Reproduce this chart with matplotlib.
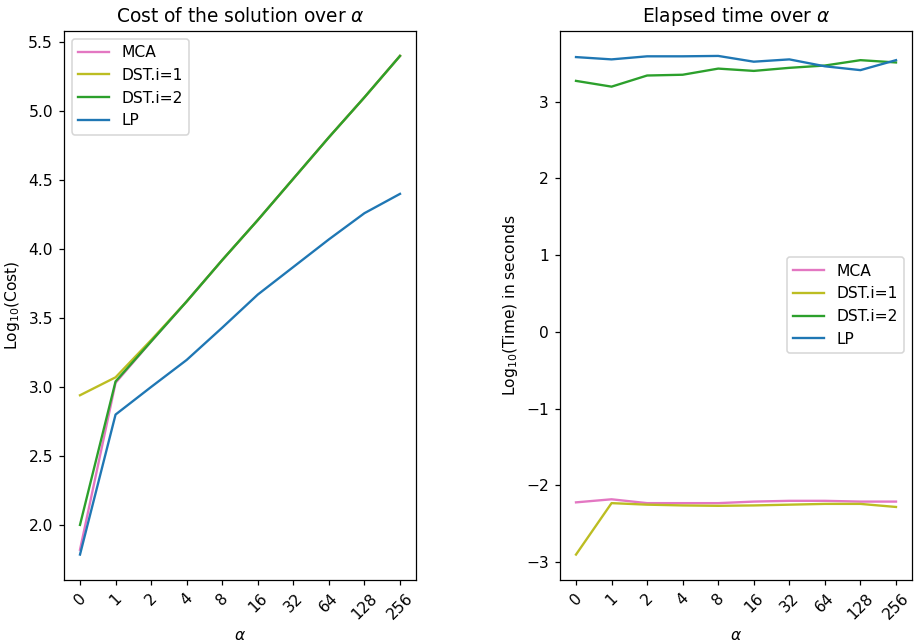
import matplotlib
matplotlib.use("Agg")
import matplotlib.pyplot as plt
import numpy as np

alphas = ["0", "1", "2", "4", "8", "16", "32", "64", "128", "256"]
series_names = ["MCA", "DST.i=1", "DST.i=2", "LP"]
colors = ["#e377c2", "#bcbd22", "#2ca02c", "#1f77b4"]

cost_mca = [1.82, 3.03, 3.33, 3.62, 3.92, 4.21, 4.51, 4.81, 5.10, 5.40]
cost_dst1 = [2.94, 3.07, 3.34, 3.62, 3.92, 4.21, 4.51, 4.81, 5.10, 5.40]
cost_dst2 = [2.00, 3.04, 3.33, 3.62, 3.92, 4.21, 4.51, 4.81, 5.10, 5.40]
cost_lp = [1.785, 2.80, 3.00, 3.196, 3.43, 3.67, 3.87, 4.07, 4.26, 4.40]

time_mca = [-2.22, -2.18, -2.23, -2.23, -2.23, -2.21, -2.20, -2.20, -2.21, -2.21]
time_dst1 = [-2.90, -2.23, -2.25, -2.26, -2.265, -2.26, -2.25, -2.24, -2.24, -2.28]
time_dst2 = [3.27, 3.195, 3.34, 3.35, 3.43, 3.40, 3.44, 3.47, 3.54, 3.51]
time_lp = [3.58, 3.55, 3.59, 3.59, 3.595, 3.52, 3.55, 3.46, 3.41, 3.54]

DPI = 112
fig = plt.figure(figsize=(916 / DPI, 644 / DPI), dpi=DPI)
W, H = 916, 644
top, bottom = 31, 579.5
ax1 = fig.add_axes([64 / W, 1 - bottom / H, (416 - 64) / W, (bottom - top) / H])
ax2 = fig.add_axes([560 / W, 1 - bottom / H, (912 - 560) / W, (bottom - top) / H])

x = np.arange(len(alphas))
for name, c, vals in zip(series_names, colors, [cost_mca, cost_dst1, cost_dst2, cost_lp]):
    ax1.plot(x, vals, color=c, label=name, lw=1.5)
for name, c, vals in zip(series_names, colors, [time_mca, time_dst1, time_dst2, time_lp]):
    ax2.plot(x, vals, color=c, label=name, lw=1.5)

for ax in (ax1, ax2):
    ax.set_xticks(x)
    ax.set_xticklabels(alphas, rotation=45)
    ax.set_xlabel(r"$\alpha$")

ax1.set_title(r"Cost of the solution over $\alpha$")
ax1.set_ylabel(r"Log$_{10}$(Cost)")
ax1.legend(loc="upper left")

ax2.set_title(r"Elapsed time over $\alpha$")
ax2.set_ylabel(r"Log$_{10}$(Time) in seconds")
ax2.legend(loc="center right")

fig.savefig("out.png", dpi=DPI)
